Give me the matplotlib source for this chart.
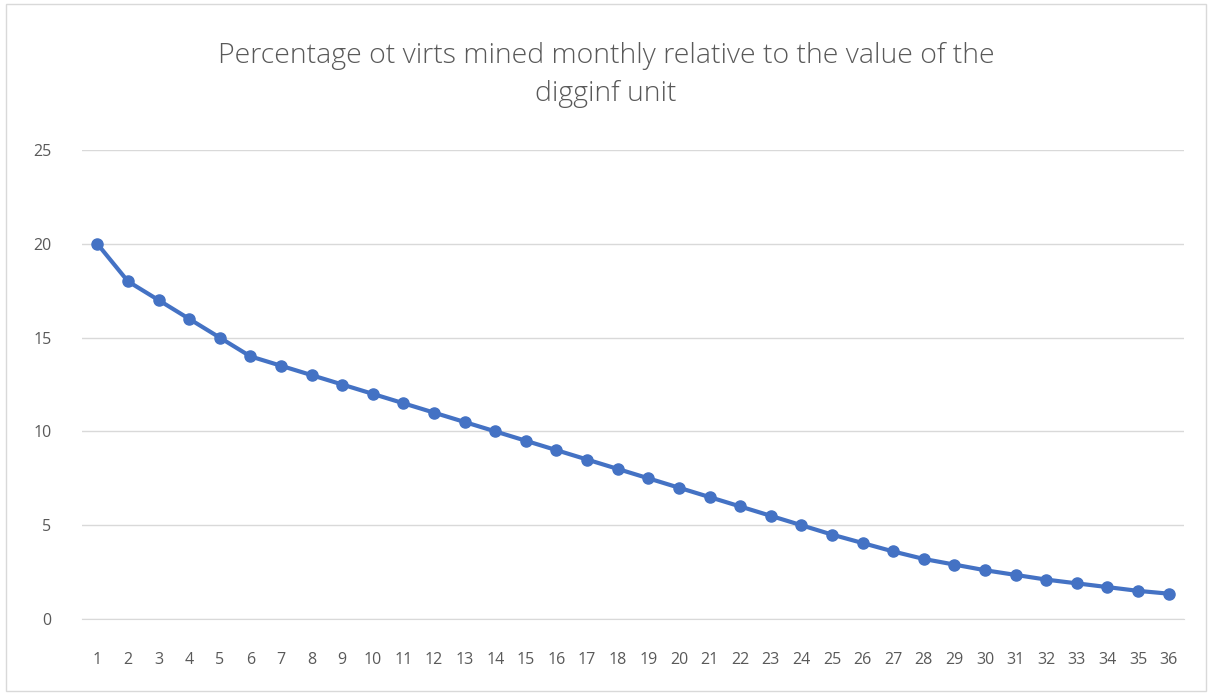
import matplotlib.pyplot as plt
from matplotlib.patches import Rectangle

## Data
months = list(range(1, 37))
percent = [20, 18, 17, 16, 15, 14, 13.5, 13, 12.5, 12, 11.5, 11, 10.5, 10, 9.5, 9,
           8.5, 8, 7.5, 7, 6.5, 6, 5.5, 5, 4.5, 4.05, 3.6, 3.2, 2.9, 2.6, 2.35, 2.1,
           1.9, 1.7, 1.5, 1.35]
y_ticks = [0, 5, 10, 15, 20, 25]
title = "Percentage ot virts mined monthly relative to the value of the\ndigginf unit"

plt.rcParams['font.family'] = ['Open Sans', 'DejaVu Sans']
text_gray = '#595959'
grid_gray = '#D9D9D9'

fig = plt.figure(figsize=(12.12, 6.95), dpi=100)
ax = fig.add_axes([82 / 1212, 76 / 695, 1102 / 1212, 469 / 695])

ax.plot(months, percent, color='#4472C4', linewidth=3, marker='o', markersize=8, zorder=3)

ax.set_xlim(0.5, 36.5)
ax.set_ylim(0, 25)
ax.set_xticks(months)
ax.set_xticklabels([str(m) for m in months])
ax.set_yticks(y_ticks)
ax.grid(axis='y', color=grid_gray, linewidth=1)
ax.set_axisbelow(True)
for side in ['top', 'right', 'left']:
    ax.spines[side].set_visible(False)
ax.spines['bottom'].set_color(grid_gray)
ax.tick_params(length=0, labelsize=11.5, colors=text_gray)
ax.tick_params(axis='x', pad=24)
ax.tick_params(axis='y', pad=22)

fig.text(0.5, 1 - 75 / 695, title, ha='center', va='center', fontsize=20.5,
         color=text_gray, fontweight='light', linespacing=1.45)

# chart border like the spreadsheet frame
fig.patches.append(Rectangle((6 / 1212, 4 / 695), 1200 / 1212, 687 / 695, transform=fig.transFigure,
                             fill=False, edgecolor=grid_gray, linewidth=1))

fig.savefig('out.png', dpi=100)
